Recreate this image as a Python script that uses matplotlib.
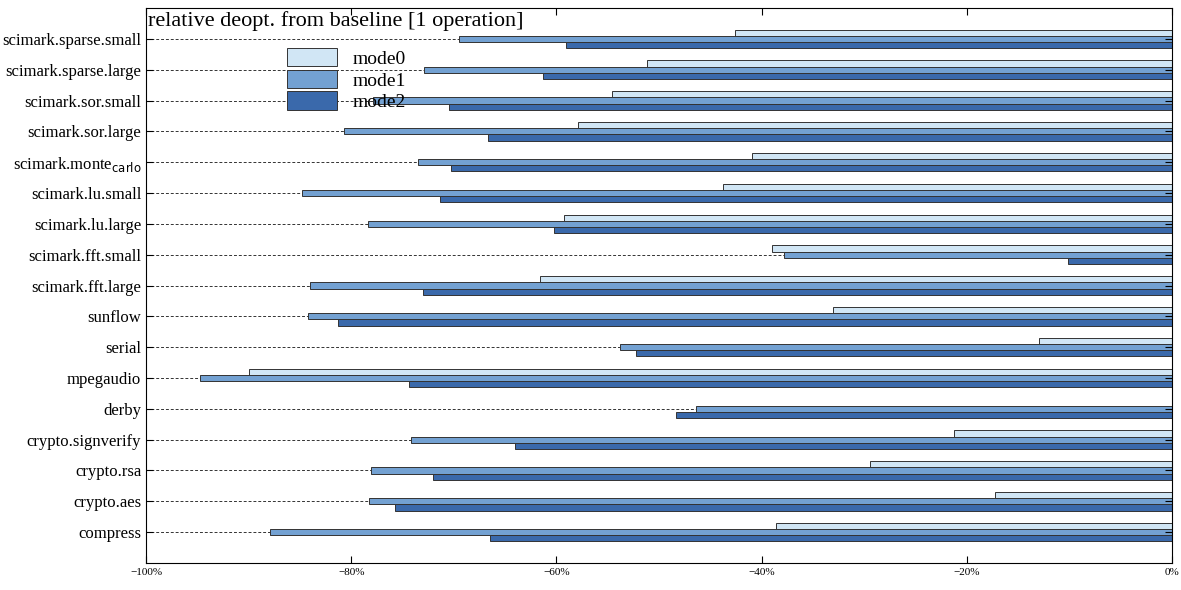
import matplotlib
matplotlib.use("Agg")
import matplotlib.pyplot as plt
import numpy as np
from matplotlib.ticker import PercentFormatter

categories = ["compress", "crypto.aes", "crypto.rsa", "crypto.signverify", "derby",
              "mpegaudio", "serial", "sunflow", "scimark.fft.large", "scimark.fft.small",
              "scimark.lu.large", "scimark.lu.small", r"scimark.monte$_{\mathrm{carlo}}$",
              "scimark.sor.large", "scimark.sor.small", "scimark.sparse.large", "scimark.sparse.small"]
mode0 = [-38.6, -17.3, -29.4, -21.2, 0.0, -90.0, -13.0, -33.0, -61.6, -39.0,
         -59.3, -43.8, -40.9, -57.9, -54.6, -51.2, -42.6]
mode1 = [-87.9, -78.3, -78.1, -74.2, -46.4, -94.7, -53.8, -84.2, -84.0, -37.8,
         -78.4, -84.8, -73.5, -80.7, -77.9, -72.9, -69.5]
mode2 = [-66.5, -75.7, -72.0, -64.0, -48.3, -74.4, -52.2, -81.3, -73.0, -10.1,
         -60.2, -71.3, -70.3, -66.7, -70.5, -61.3, -59.1]

plt.rcParams['font.family'] = ['Liberation Serif', 'DejaVu Serif']
fig = plt.figure(figsize=(11.81, 5.90), dpi=100)
ax = fig.add_axes([146/1181, 27/590, 1026/1181, 555/590])
y = np.arange(len(categories))
h = 0.2
for yi in y:
    ax.plot([-100, 0], [yi, yi], ls=(0, (3, 2)), color='#333333', lw=0.7, zorder=0)
ax.barh(y + h, mode0, height=h, color='#d1e6f5', edgecolor='#333333', lw=0.7, label='mode0')
ax.barh(y, mode1, height=h, color='#73a1d2', edgecolor='#333333', lw=0.7, label='mode1')
ax.barh(y - h, mode2, height=h, color='#3a69ab', edgecolor='#333333', lw=0.7, label='mode2')
ax.set_xlim(-100, 0)
ax.set_ylim(-1, 17)
ax.set_yticks(y)
ax.set_yticklabels(categories, fontsize=12)
ax.set_xticks(np.arange(-100, 1, 20))
ax.xaxis.set_major_formatter(PercentFormatter(decimals=0))
ax.tick_params(axis='x', labelsize=8, direction='in', top=True, length=5)
ax.tick_params(axis='y', direction='in', right=True, length=5)
ax.text(0.002, 0.995, "relative deopt. from baseline [1 operation]", transform=ax.transAxes,
        fontsize=16, va='top', ha='left')
ax.legend(loc='upper left', bbox_to_anchor=(0.12, 0.96), frameon=False, fontsize=14,
          handlelength=2.6, handleheight=1.1, labelspacing=0.1)
fig.savefig("out.png", dpi=100)
